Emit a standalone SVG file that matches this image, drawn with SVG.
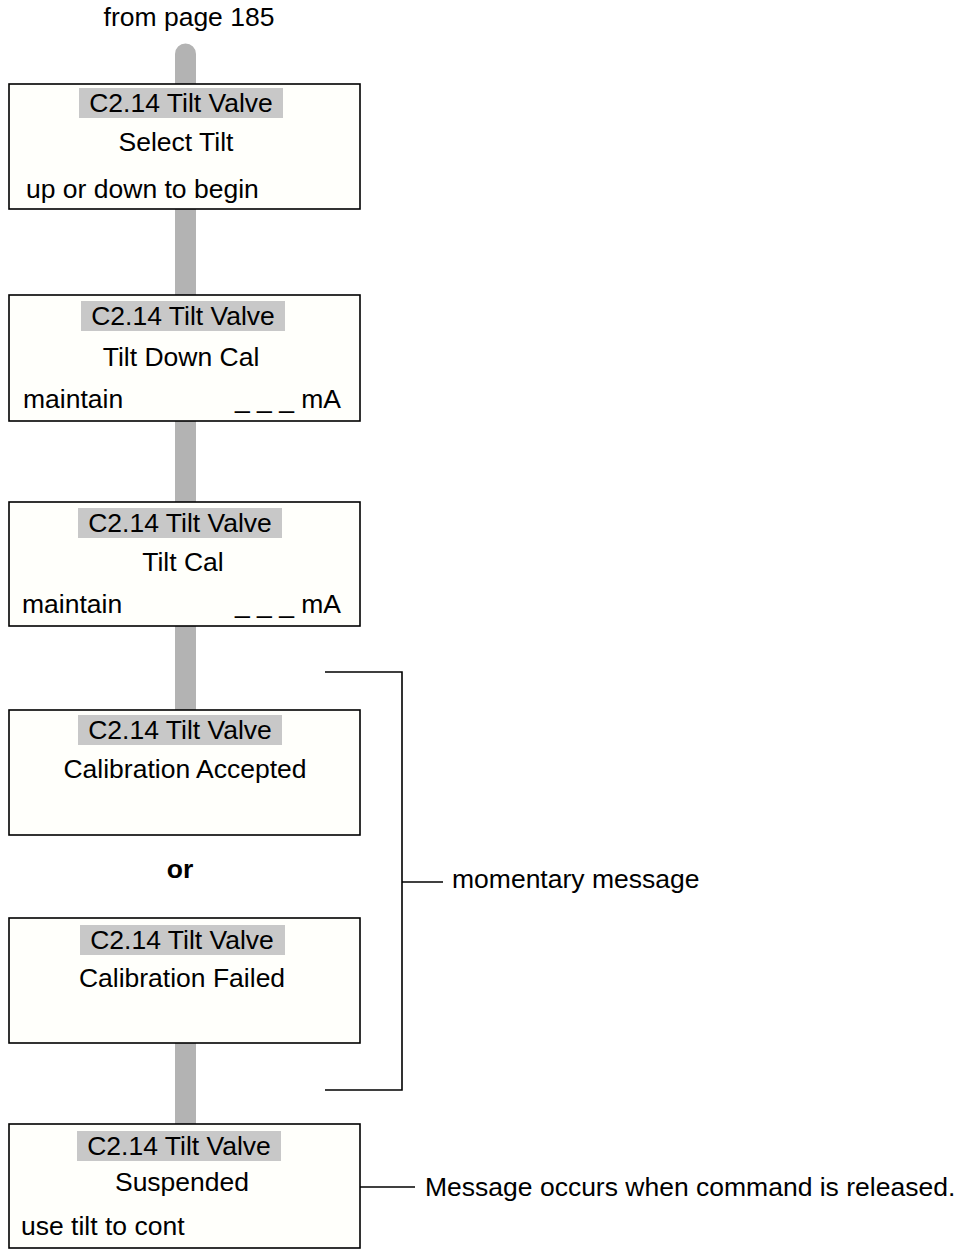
<svg xmlns="http://www.w3.org/2000/svg" width="962" height="1249" viewBox="0 0 962 1249">
  <style>
    .box { fill: #fffffb; stroke: #000; stroke-width: 1.6; }
    .hdr { fill: #c8c8c8; }
    .bar { fill: #b3b3b3; }
    .t { font-family: "Liberation Sans", Arial, sans-serif; font-size: 26.5px; fill: #000; }
    .c { text-anchor: middle; }
    .e { text-anchor: end; }
    .b { font-weight: bold; }
    .ln { stroke: #000; stroke-width: 1.6; fill: none; }
  </style>
  <rect width="962" height="1249" fill="#ffffff"/>

  <text class="t c" x="189" y="26">from page 185</text>

  <g id="connectors">
    <path class="bar" d="M175,84 V54 a10.5,10.5 0 0 1 21,0 V84 Z"/>
    <rect class="bar" x="175" y="209" width="21" height="86"/>
    <rect class="bar" x="175" y="421" width="21" height="81"/>
    <rect class="bar" x="175" y="626" width="21" height="84"/>
    <rect class="bar" x="175" y="1043" width="21" height="81"/>
    <path class="ln" d="M325,672 H402 V1090 H325"/>
    <path class="ln" d="M402,882 H443"/>
    <path class="ln" d="M360,1187 H415"/>
  </g>

  <g id="node-select-tilt">
    <rect class="box" x="9" y="84" width="351" height="125"/>
    <rect class="hdr" x="79" y="88" width="204" height="30"/>
    <text class="t c" x="181" y="112">C2.14 Tilt Valve</text>
    <text class="t c" x="176" y="151">Select Tilt</text>
    <text class="t" x="26" y="198">up or down to begin</text>
  </g>

  <g id="node-tilt-down-cal">
    <rect class="box" x="9" y="295" width="351" height="126"/>
    <rect class="hdr" x="81" y="301" width="204" height="30"/>
    <text class="t c" x="183" y="325">C2.14 Tilt Valve</text>
    <text class="t c" x="181" y="366">Tilt Down Cal</text>
    <text class="t" x="23" y="408">maintain</text>
    <text class="t e" x="341" y="408">_ _ _ mA</text>
  </g>

  <g id="node-tilt-cal">
    <rect class="box" x="9" y="502" width="351" height="124"/>
    <rect class="hdr" x="78" y="508" width="204" height="30"/>
    <text class="t c" x="180" y="532">C2.14 Tilt Valve</text>
    <text class="t c" x="183" y="571">Tilt Cal</text>
    <text class="t" x="22" y="613">maintain</text>
    <text class="t e" x="341" y="613">_ _ _ mA</text>
  </g>

  <g id="node-cal-accepted">
    <rect class="box" x="9" y="710" width="351" height="125"/>
    <rect class="hdr" x="78" y="715" width="204" height="30"/>
    <text class="t c" x="180" y="739">C2.14 Tilt Valve</text>
    <text class="t c" x="185" y="778">Calibration Accepted</text>
  </g>

  <text class="t c b" x="180" y="878">or</text>

  <g id="node-cal-failed">
    <rect class="box" x="9" y="918" width="351" height="125"/>
    <rect class="hdr" x="80" y="925" width="205" height="30"/>
    <text class="t c" x="182" y="949">C2.14 Tilt Valve</text>
    <text class="t c" x="182" y="987">Calibration Failed</text>
  </g>

  <g id="node-suspended">
    <rect class="box" x="9" y="1124" width="351" height="124"/>
    <rect class="hdr" x="77" y="1131" width="204" height="30"/>
    <text class="t c" x="179" y="1155">C2.14 Tilt Valve</text>
    <text class="t c" x="182" y="1191">Suspended</text>
    <text class="t" x="21" y="1235">use tilt to cont</text>
  </g>

  <text class="t" x="452" y="888">momentary message</text>
  <text class="t" x="425" y="1196">Message occurs when command is released.</text>
</svg>
